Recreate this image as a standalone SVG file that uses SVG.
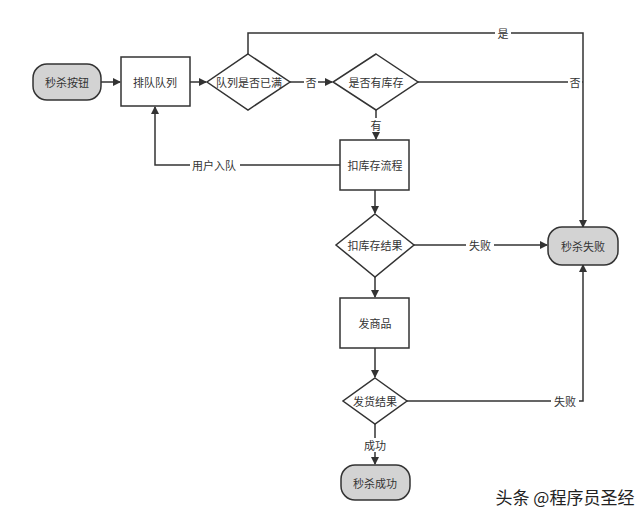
<svg xmlns="http://www.w3.org/2000/svg" width="640" height="523" viewBox="0 0 640 523">
<style>
text{font-family:"Noto Sans CJK SC","Liberation Sans",sans-serif;font-size:11px;fill:#333;text-anchor:middle;dominant-baseline:central}
.n{fill:#fff;stroke:#333;stroke-width:1.5}
.t{fill:#d3d3d3;stroke:#333;stroke-width:1.5}
.c path{fill:none;stroke:#333;stroke-width:1.5}
.lb{fill:#fff;stroke:none}
</style>
<defs><marker id="a" markerWidth="8" markerHeight="8" refX="7" refY="4" orient="auto" markerUnits="userSpaceOnUse"><path d="M0,0L8,4L0,8z" fill="#333"/></marker></defs>
<rect width="640" height="523" fill="#fff"/>
<g class="c">
<path d="M101,82H120" marker-end="url(#a)"/>
<path d="M190,82H206" marker-end="url(#a)"/>
<path d="M290,82H332" marker-end="url(#a)"/>
<path d="M248,54V33H583V227" marker-end="url(#a)"/>
<path d="M418,82H583"/>
<path d="M376,110V139" marker-end="url(#a)"/>
<path d="M340,165H155V107" marker-end="url(#a)"/>
<path d="M375,190V213" marker-end="url(#a)"/>
<path d="M414,245H547" marker-end="url(#a)"/>
<path d="M375,277V297" marker-end="url(#a)"/>
<path d="M375,348V377" marker-end="url(#a)"/>
<path d="M407,401H583V265" marker-end="url(#a)"/>
<path d="M375,424V464" marker-end="url(#a)"/>
</g>
<g id="labels">
<rect class="lb" x="495" y="26" width="16" height="14"/><text x="503" y="33">是</text>
<rect class="lb" x="304" y="75" width="14" height="14"/><text x="311" y="82">否</text>
<rect class="lb" x="568" y="75" width="14" height="14"/><text x="575" y="82">否</text>
<rect class="lb" x="368" y="118" width="16" height="14"/><text x="376" y="125">有</text>
<rect class="lb" x="190" y="158" width="50" height="14"/><text x="214" y="165">用户入队</text>
<rect class="lb" x="466" y="238" width="28" height="14"/><text x="480" y="245">失败</text>
<rect class="lb" x="551" y="394" width="28" height="14"/><text x="565" y="401">失败</text>
<rect class="lb" x="361" y="438" width="28" height="14"/><text x="375" y="445">成功</text>
</g>
<g id="start"><rect class="t" x="33" y="64" width="68" height="36" rx="14"/><text x="67" y="82">秒杀按钮</text></g>
<g id="queue"><rect class="n" x="121" y="57" width="69" height="49"/><text x="155" y="82">排队队列</text></g>
<g id="full"><path class="n" d="M248,54L290,82L248,110L207,82Z"/><text x="249" y="82">队列是否已满</text></g>
<g id="stock"><path class="n" d="M376,54L418,82L376,110L333,82Z"/><text x="376" y="82">是否有库存</text></g>
<g id="deduct"><rect class="n" x="340" y="140" width="69" height="50"/><text x="375" y="165">扣库存流程</text></g>
<g id="dres"><path class="n" d="M375,214L414,245L375,277L336,245Z"/><text x="375" y="245">扣库存结果</text></g>
<g id="fail"><rect class="t" x="548" y="227" width="70" height="38" rx="14"/><text x="583" y="246">秒杀失败</text></g>
<g id="ship"><rect class="n" x="340" y="298" width="69" height="50"/><text x="375" y="323">发商品</text></g>
<g id="sres"><path class="n" d="M375,378L407,401L375,424L343,401Z"/><text x="375" y="401">发货结果</text></g>
<g id="ok"><rect class="t" x="341" y="465" width="69" height="35" rx="14"/><text x="375" y="483">秒杀成功</text></g>
<text x="565" y="496" style="font-size:17px;fill:#222">头条 @程序员圣经</text>
</svg>
